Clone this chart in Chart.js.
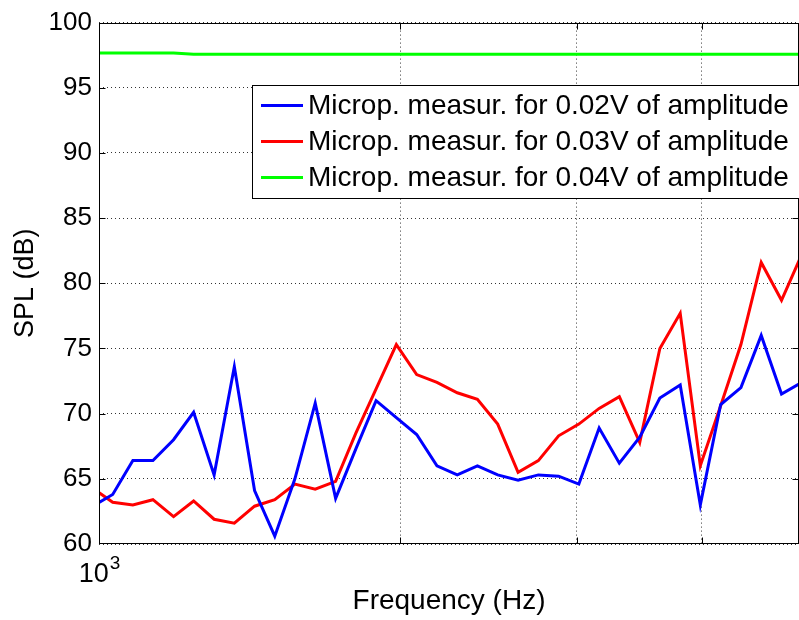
<!DOCTYPE html>
<html>
<head>
<meta charset="utf-8">
<script src="https://cdn.jsdelivr.net/npm/chart.js@4.4.1/dist/chart.umd.min.js"></script>
<style>
  html, body { margin: 0; padding: 0; background: #fff; }
</style>
</head>
<body>
<canvas id="spl-chart" width="799" height="620"></canvas>
<script>
var freqs = [985, 1032, 1081, 1132, 1187, 1243, 1303, 1365, 1430, 1498, 1569, 1644,
             1723, 1805, 1891, 1981, 2076, 2175, 2279, 2387, 2501, 2621, 2746, 2877,
             3014, 3158, 3308, 3467, 3631, 3805, 3985, 4176, 4375, 4584, 4803, 5031];

// SPL in dB for each amplitude
var spl002 = [62.9, 63.8, 66.4, 66.4, 68.0, 70.1, 65.3, 73.6, 64.1, 60.6, 65.0, 70.8,
              63.5, 67.3, 71.0, 69.7, 68.4, 66.0, 65.3, 66.0, 65.3, 64.9, 65.3, 65.2,
              64.6, 68.9, 66.2, 68.2, 71.2, 72.2, 63.0, 70.7, 72.0, 76.0, 71.5, 72.4];
var spl003 = [64.3, 63.2, 63.0, 63.4, 62.1, 63.3, 61.9, 61.6, 62.9, 63.4, 64.6, 64.2,
              64.8, 68.5, 71.9, 75.3, 73.0, 72.4, 71.6, 71.1, 69.2, 65.5, 66.4, 68.3,
              69.2, 70.4, 71.3, 67.8, 75.0, 77.7, 66.0, 70.6, 75.3, 81.6, 78.7, 82.2];
var spl004 = [97.66, 97.66, 97.66, 97.66, 97.66, 97.58, 97.58, 97.58, 97.58, 97.58, 97.58, 97.58,
              97.58, 97.58, 97.58, 97.58, 97.58, 97.58, 97.58, 97.58, 97.58, 97.58, 97.58, 97.58,
              97.58, 97.58, 97.58, 97.58, 97.58, 97.58, 97.58, 97.58, 97.58, 97.58, 97.58, 97.58];

var seriesLabels = ['Microp. measur. for 0.02V of amplitude',
                    'Microp. measur. for 0.03V of amplitude',
                    'Microp. measur. for 0.04V of amplitude'];
var seriesColors = ['#0000ff', '#ff0000', '#00ff00'];

// grid positions on the frequency axis, only the decade gets a label
var xGridTicks = [1000, 2000, 3000, 4000, 5000];
var yMin = 60, yMax = 100, yStep = 5;

function toPoints(vals) {
    return vals.map(function(v, i) { return {x: freqs[i], y: v}; });
}

var FONT = "'Liberation Sans', Arial, sans-serif";
Chart.defaults.font.family = FONT;
Chart.defaults.color = '#000';

// box, inward ticks, decade label and legend drawn the MATLAB way
var matlabAxes = {
    id: 'matlabAxes',
    afterDraw: function(chart) {
        var ctx = chart.ctx, a = chart.chartArea;
        var xs = chart.scales.x, ys = chart.scales.y;
        var L = Math.round(a.left) + 0.5, R = Math.round(a.right) - 0.5;
        var T = Math.round(a.top) + 0.5, B = Math.round(a.bottom) - 0.5;
        ctx.save();
        ctx.strokeStyle = '#000';
        ctx.lineWidth = 1;
        ctx.strokeRect(L, T, R - L, B - T);

        // tick marks pointing into the plot
        ctx.beginPath();
        for (var v = yMin + yStep; v < yMax; v += yStep) {
            var py = Math.round(ys.getPixelForValue(v)) + 0.5;
            ctx.moveTo(L, py); ctx.lineTo(L + 6, py);
            ctx.moveTo(R, py); ctx.lineTo(R - 6, py);
        }
        xGridTicks.slice(1, -1).forEach(function(f) {
            var px = Math.round(xs.getPixelForValue(f)) + 0.5;
            ctx.moveTo(px, B); ctx.lineTo(px, B - 6);
            ctx.moveTo(px, T); ctx.lineTo(px, T + 6);
        });
        ctx.stroke();

        // 10^3 under the left end of the frequency axis
        var x0 = xs.getPixelForValue(xGridTicks[0]);
        ctx.fillStyle = '#000';
        ctx.textBaseline = 'alphabetic';
        ctx.font = '27px ' + FONT;
        var w10 = ctx.measureText('10').width;
        ctx.font = '19px ' + FONT;
        var w3 = ctx.measureText('3').width;
        var start = x0 - (w10 + w3) / 2;
        ctx.font = '27px ' + FONT;
        ctx.textAlign = 'left';
        ctx.fillText('10', start, 582);
        ctx.font = '19px ' + FONT;
        ctx.fillText('3', start + w10 + 1, 569);

        // legend box
        var lx = 252.5, ly = 85.5, lw = 600, lh = 113;
        ctx.fillStyle = '#fff';
        ctx.fillRect(lx, ly, lw, lh);
        ctx.strokeRect(lx, ly, lw, lh);
        var rows = [105.5, 141.5, 177.5];
        ctx.font = '28px ' + FONT;
        ctx.textBaseline = 'middle';
        chart.data.datasets.forEach(function(ds, i) {
            ctx.strokeStyle = ds.borderColor;
            ctx.lineWidth = 3;
            ctx.beginPath();
            ctx.moveTo(261, rows[i]); ctx.lineTo(303, rows[i]);
            ctx.stroke();
            ctx.fillStyle = '#000';
            ctx.fillText(ds.label, 308, rows[i] + 1);
        });
        ctx.restore();
    }
};

var ctx = document.getElementById('spl-chart').getContext('2d');
var splChart = new Chart(ctx, {
    type: 'line',
    data: {
        datasets: [spl002, spl003, spl004].map(function(vals, i) {
            return {
                label: seriesLabels[i],
                data: toPoints(vals),
                borderColor: seriesColors[i],
                backgroundColor: seriesColors[i],
                borderWidth: 3,
                pointRadius: 0,
                tension: 0,
                clip: 0
            };
        })
    },
    options: {
        responsive: false,
        animation: false,
        layout: { padding: { top: 21, right: 0, bottom: 0, left: 0 } },
        plugins: {
            legend: { display: false },
            tooltip: { enabled: false }
        },
        scales: {
            x: {
                type: 'logarithmic',
                min: 1000,
                max: 5000,
                afterBuildTicks: function(s) {
                    s.ticks = xGridTicks.map(function(v) { return {value: v}; });
                },
                afterFit: function(s) { s.height = 76; },
                ticks: { display: false },
                grid: { color: '#333', drawTicks: false },
                border: { display: false, dash: [1, 3] },
                title: {
                    display: true,
                    text: 'Frequency (Hz)',
                    font: { size: 28 },
                    padding: { top: 0, bottom: 2 }
                }
            },
            y: {
                min: yMin,
                max: yMax,
                afterFit: function(s) { s.width = 99; },
                ticks: { stepSize: yStep, font: { size: 26 }, padding: 7 },
                grid: { color: '#333', drawTicks: false },
                border: { display: false, dash: [1, 3] },
                title: {
                    display: true,
                    text: 'SPL (dB)',
                    font: { size: 27 },
                    padding: { top: 9, bottom: 0 }
                }
            }
        }
    },
    plugins: [matlabAxes]
});
</script>
</body>
</html>
